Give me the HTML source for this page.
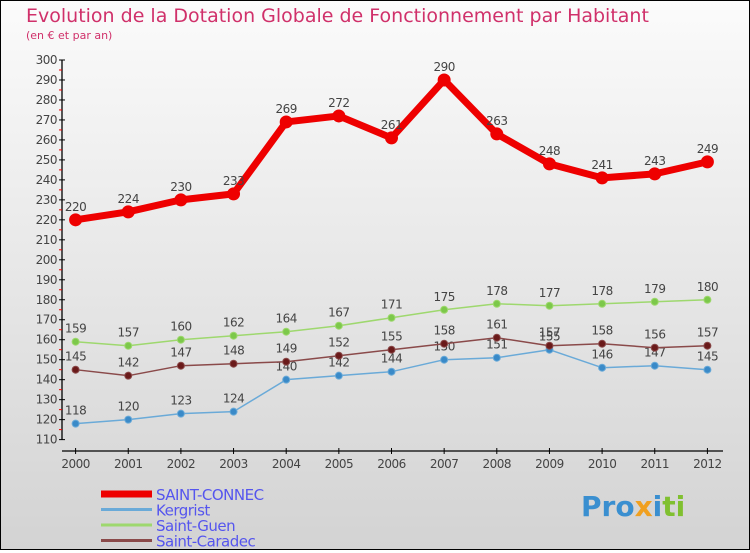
<!DOCTYPE html>
<html><head><meta charset="utf-8"><style>
html,body{margin:0;padding:0}
body{width:750px;height:550px;overflow:hidden;font-family:"DejaVu Sans","Liberation Sans",sans-serif}
#wrap{position:relative;width:748px;height:548px;border:1px solid #000;background:linear-gradient(#fbfbfb,#d3d3d3)}
</style></head><body>
<div id="wrap">
<svg id="chart" width="748" height="548" xmlns="http://www.w3.org/2000/svg">
<text x="25" y="21" font-size="19" fill="#d0306a">Evolution de la Dotation Globale de Fonctionnement par Habitant</text>
<text x="25" y="38" font-size="11" fill="#d0306a">(en € et par an)</text>
<g id="axes"></g><g id="series"></g><g id="legend"></g>
<text x="580" y="515" font-size="28" font-weight="bold" fill="#3a8fd0">Pro<tspan fill="#f0a020">x</tspan><tspan fill="#3a8fd0">i</tspan><tspan fill="#80c030">ti</tspan></text>
</svg></div>
<script>
const years=["2000","2001","2002","2003","2004","2005","2006","2007","2008","2009","2010","2011","2012"];
const yTicks=[110,120,130,140,150,160,170,180,190,200,210,220,230,240,250,260,270,280,290,300];
const saintConnec=[220,224,230,233,269,272,261,290,263,248,241,243,249];
const kergrist=[118,120,123,124,140,142,144,150,151,155,146,147,145];
const saintGuen=[159,157,160,162,164,167,171,175,178,177,178,179,180];
const saintCaradec=[145,142,147,148,149,152,155,158,161,157,158,156,157];
const NS="http://www.w3.org/2000/svg";
const x=i=>74.6+i*52.65;
const y=v=>59+(300-v)*1.998;
function mk(t,a,p){const e=document.createElementNS(NS,t);for(const k in a)e.setAttribute(k,a[k]);p.appendChild(e);return e;}
const ax=document.getElementById('axes');
let e=mk('line',{x1:61,y1:y(300),x2:61,y2:y(110),stroke:'#000','stroke-width':1.3},ax);

e=mk('line',{x1:61,y1:450,x2:722,y2:450,stroke:'#000','stroke-width':1.3},ax);

yTicks.forEach(v=>{
 mk('line',{x1:58,y1:y(v),x2:64,y2:y(v),stroke:'#000'},ax);
 if(v<300)mk('line',{x1:58,y1:y(v+5),x2:61,y2:y(v+5),stroke:'#e00'},ax);
 const t=mk('text',{x:56,y:y(v)+4,'text-anchor':'end','font-size':12,fill:'#444','letter-spacing':'-0.5'},ax);
 t.textContent=v;
 
});
years.forEach((yr,i)=>{
 mk('line',{x1:x(i),y1:447,x2:x(i),y2:453,stroke:'#000'},ax);
 const t=mk('text',{x:x(i),y:467,'text-anchor':'middle','font-size':12,fill:'#444','letter-spacing':'-0.5'},ax);
 t.textContent=yr;
 
});
const sg=document.getElementById('series');
function draw(data,color,w,r,fill,name){
 const g=mk('g',{},sg);
 
 const p=mk('polyline',{points:data.map((v,i)=>x(i)+','+y(v)).join(' '),fill:'none',stroke:color,'stroke-width':w,'stroke-linejoin':'round'},g);
 data.forEach((v,i)=>{
  const c=mk('circle',{cx:x(i),cy:y(v),r:r,fill:fill,stroke:color,'stroke-width':1},g);
  
  const t=mk('text',{x:x(i),y:y(v)-9,'text-anchor':'middle','font-size':12,fill:'#444','letter-spacing':'-0.5'},g);
  t.textContent=v;
  
 });
}
draw(kergrist,'#6aaad8',1.5,3.5,'#3a8ac8','kergrist');
draw(saintGuen,'#9ed86e',1.5,3.5,'#7cc84a','saint-guen');
draw(saintCaradec,'#8a4a4a',1.5,3.5,'#6a1a1a','saint-caradec');
draw(saintConnec,'#ee0000',7,6,'#ee0000','saint-connec');
const lg=document.getElementById('legend');
const leg=[["SAINT-CONNEC","#ee0000",7],["Kergrist","#6aaad8",3],["Saint-Guen","#9ed86e",3],["Saint-Caradec","#8a4a4a",3]];
leg.forEach((l,i)=>{
 const yy=493+i*15.5;
 const g=mk('g',{},lg);
 
 mk('line',{x1:100,y1:yy,x2:151,y2:yy,stroke:l[1],'stroke-width':l[2]},g);
 const t=mk('text',{x:155,y:yy+6,'font-size':15,fill:'#5555ee','letter-spacing':'-0.5'},g);
 t.textContent=l[0];
});
</script>
</body></html>
